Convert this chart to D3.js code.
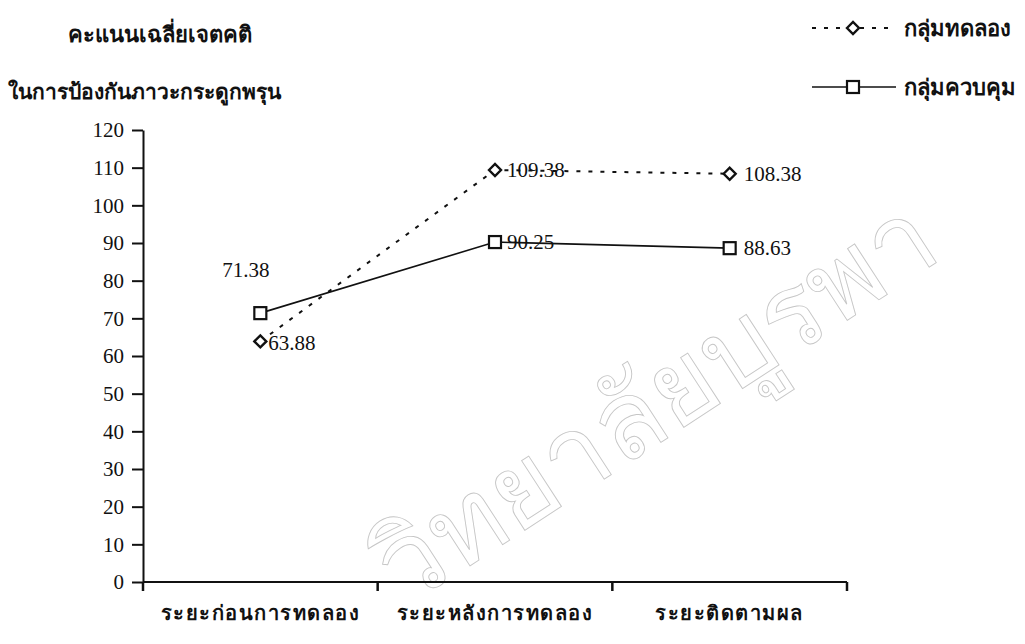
<!DOCTYPE html>
<html>
<head>
<meta charset="utf-8">
<script src="https://cdn.jsdelivr.net/npm/d3@7"></script>
<style>
  body { margin: 0; background: #fff; }
  svg { display: block; }
  .num { font-family: "Liberation Serif", "Times New Roman", serif; font-size: 21px; fill: #111; }
  .thai { font-family: "Noto Sans", "DejaVu Sans", sans-serif; font-weight: bold; fill: #111; }
</style>
</head>
<body>
<svg id="chart" width="1025" height="644"></svg>
<script>
// data
const periods = ["ระยะก่อนการทดลอง", "ระยะหลังการทดลอง", "ระยะติดตามผล"];
const experimental = [63.88, 109.38, 108.38];
const control = [71.38, 90.25, 88.63];
const yTicks = [0, 10, 20, 30, 40, 50, 60, 70, 80, 90, 100, 110, 120];
const titleLines = ["คะแนนเฉลี่ยเจตคติ", "ในการป้องกันภาวะกระดูกพรุน"];
const legendNames = ["กลุ่มทดลอง", "กลุ่มควบคุม"];

const svg = d3.select("#chart");
const margin = { left: 143, right: 178, top: 130, bottom: 62 };
const width = 1025, height = 644;

const x = d3.scaleBand().domain(periods).range([margin.left, width - margin.right]);
const y = d3.scaleLinear().domain([0, 120]).range([height - margin.bottom, margin.top]);
const cx = d => x(d) + x.bandwidth() / 2;

// watermark (outlined, light)
svg.append("text")
  .attr("transform", "translate(405,608) rotate(-33)")
  .attr("font-family", "Noto Sans, DejaVu Sans, sans-serif")
  .attr("font-size", 108)
  .attr("fill", "none")
  .attr("stroke", "#c6c6c6")
  .attr("stroke-width", 0.9)
  .text("วิทยาลัยบูรพา");

// y axis
const yAxis = svg.append("g")
  .attr("transform", `translate(${margin.left},0)`)
  .call(d3.axisLeft(y).tickValues(yTicks).tickSize(11).tickSizeOuter(0).tickPadding(8));
yAxis.select(".domain").attr("stroke", "#111").attr("stroke-width", 2);
yAxis.selectAll(".tick line").attr("stroke", "#111").attr("stroke-width", 2);
yAxis.selectAll(".tick text").attr("class", "num").attr("fill", "#111");

// x axis: ticks at band boundaries
const xAxisG = svg.append("g").attr("transform", `translate(0,${y(0)})`);
xAxisG.append("line")
  .attr("x1", margin.left).attr("x2", width - margin.right)
  .attr("stroke", "#111").attr("stroke-width", 2);
const boundaries = periods.map(p => x(p)).concat([x(periods[periods.length - 1]) + x.bandwidth()]);
xAxisG.selectAll("line.tk").data(boundaries).join("line")
  .attr("class", "tk")
  .attr("x1", d => d).attr("x2", d => d)
  .attr("y1", 0).attr("y2", 9)
  .attr("stroke", "#111").attr("stroke-width", 2.5);
xAxisG.selectAll("text").data(periods).join("text")
  .attr("class", "thai")
  .attr("x", d => cx(d))
  .attr("y", 38)
  .attr("text-anchor", "middle")
  .attr("font-size", 20)
  .attr("letter-spacing", 1.5)
  .text(d => d);

// lines
const line = d3.line().x((d, i) => cx(periods[i])).y(d => y(d));
svg.append("path").datum(experimental)
  .attr("d", line).attr("fill", "none")
  .attr("stroke", "#111").attr("stroke-width", 2)
  .attr("stroke-dasharray", "4,8");
svg.append("path").datum(control)
  .attr("d", line).attr("fill", "none")
  .attr("stroke", "#111").attr("stroke-width", 1.6);

// markers
const diamond = (g, px, py) => g.append("path")
  .attr("d", `M${px - 6},${py} L${px},${py - 6} L${px + 6},${py} L${px},${py + 6} Z`)
  .attr("fill", "#fff").attr("stroke", "#111").attr("stroke-width", 2.4);
const square = (g, px, py) => g.append("rect")
  .attr("x", px - 6).attr("y", py - 6).attr("width", 12).attr("height", 12)
  .attr("fill", "#fff").attr("stroke", "#111").attr("stroke-width", 2.2);

experimental.forEach((v, i) => diamond(svg, cx(periods[i]), y(v)));
control.forEach((v, i) => square(svg, cx(periods[i]), y(v)));

// value labels
const labelOffsets = {
  experimental: [[8, 9], [12, 7], [14, 7]],
  control: [[-38, -36], [12, 7], [14, 7]]
};
experimental.forEach((v, i) => {
  svg.append("text").attr("class", "num")
    .attr("x", cx(periods[i]) + labelOffsets.experimental[i][0])
    .attr("y", y(v) + labelOffsets.experimental[i][1])
    .text(v.toFixed(2));
});
control.forEach((v, i) => {
  svg.append("text").attr("class", "num")
    .attr("x", cx(periods[i]) + labelOffsets.control[i][0])
    .attr("y", y(v) + labelOffsets.control[i][1])
    .text(v.toFixed(2));
});

// title
svg.append("text").attr("class", "thai")
  .attr("x", 68).attr("y", 42).attr("font-size", 22)
  .text(titleLines[0]);
svg.append("text").attr("class", "thai")
  .attr("x", 8).attr("y", 99).attr("font-size", 21)
  .text(titleLines[1]);

// legend
const legend = svg.append("g");
legend.append("line")
  .attr("x1", 812).attr("x2", 896).attr("y1", 28).attr("y2", 28)
  .attr("stroke", "#111").attr("stroke-width", 2).attr("stroke-dasharray", "4,8");
diamond(legend, 853, 28);
legend.append("text").attr("class", "thai")
  .attr("x", 904).attr("y", 36).attr("font-size", 22).text(legendNames[0]);
legend.append("line")
  .attr("x1", 812).attr("x2", 896).attr("y1", 87).attr("y2", 87)
  .attr("stroke", "#111").attr("stroke-width", 1.6);
square(legend, 853, 87);
legend.append("text").attr("class", "thai")
  .attr("x", 904).attr("y", 95).attr("font-size", 22).text(legendNames[1]);
</script>
</body>
</html>
